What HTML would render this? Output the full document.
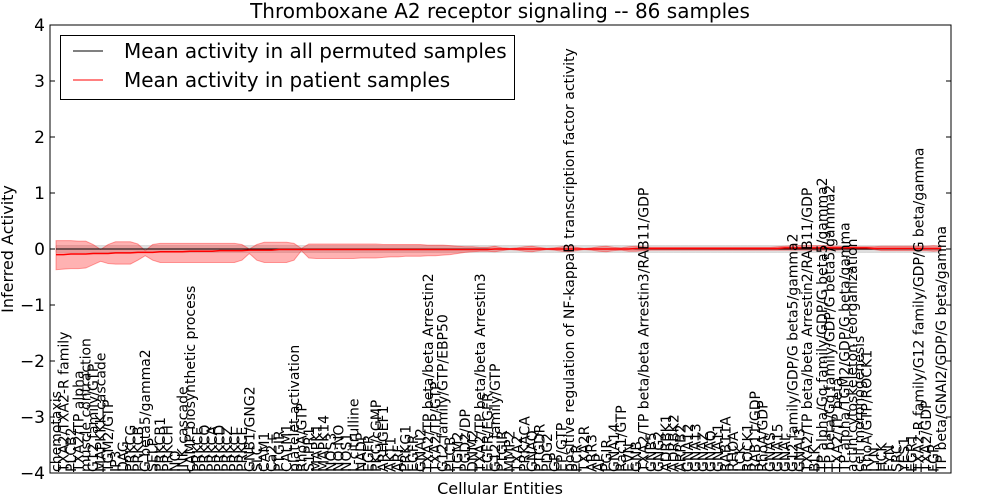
<!DOCTYPE html>
<html><head><meta charset="utf-8"><style>
body{margin:0;background:#fff;}
svg{display:block;font-family:"DejaVu Sans","Liberation Sans",sans-serif;}
</style></head><body>
<svg id="chart" width="1000" height="500" viewBox="0 0 1000 500">
<rect x="0" y="0" width="1000" height="500" fill="#fff"/>
<text x="500" y="18" text-anchor="middle" font-size="20">Thromboxane A2 receptor signaling -- 86 samples</text>
<text transform="translate(13,249) rotate(-90)" text-anchor="middle" font-size="16">Inferred Activity</text>
<text x="500" y="494" text-anchor="middle" font-size="16">Cellular Entities</text>
<g id="plot"></g>
<g id="xlabels"></g>
<rect x="50" y="25" width="901" height="448" fill="none" stroke="#000" stroke-width="1"/>
<g id="yaxis"></g>
<g>
<rect x="60.5" y="35.5" width="454" height="64" fill="#fff" stroke="#000"/>
<line x1="73" y1="51" x2="103" y2="51" stroke="#000" stroke-width="1"/>
<text x="124" y="58" font-size="20">Mean activity in all permuted samples</text>
<line x1="73" y1="80" x2="103" y2="80" stroke="#f00" stroke-width="1"/>
<text x="124" y="87" font-size="20">Mean activity in patient samples</text>
</g>
</svg>
<script>
const categories = ["chemotaxis","TXA2/TXA2-R family","PLCB2","TXA2/TP alpha","muscle contraction","G12 family/GTP","MAPKKK cascade","TGM2/GTP","IP3","DAG",
"PRKCG","PRKCB","G beta5/gamma2","SELP","PRKCB1","PRKCH","NO","JNK cascade","cAMP biosynthetic process","PRKCE",
"PRKCQ","PRKCA","PRKCD","PRKCZ","PRKCI","PRKCE","GNB1/GNG2","SLC","CAM1","Ca2+",
"PTGIR","CALM1","platelet activation","RhoA/GTP","S1PR1","MAPK1","MAPK14","NOS3","NO:NO","NOS1",
"L-citrulline","NADP","EGFR","PKG/cGMP","ARHGEF1","AKT1","ARF","PRKG1","EGFR","GNAI2",
"TXA2/TP beta/beta Arrestin2","TXA2/TP/GTP","G12 family/GTP/EBP50","PLCB","TGM2","PGD2/DP","DNM2","TXA2/TP beta/beta Arrestin3","EGFR/EGFR","G12 family/GTP",
"PTGIR","MMP2","TXA2","PRKACA","GNAQ","PTGDR","PDG2","GP","EP/GTP","positive regulation of NF-kappaB transcription factor activity",
"PCR","TXA2R","ARR3","AP","PGIR","GNA14","Rac1/GTP","EVN","GNB","TXA2/TP beta/beta Arrestin3/RAB11/GDP",
"GNB5","GNG2","ADRBK1","ADRBK2","ARRB2","GNA12","GNA13","GNAZ","GNAQ","GNA11",
"RAB11A","RHOA","LCK","ROCK1","RAB11/GDP","RhoA/GDP","GNAS","GNA15","GNAI","G12 family/GDP/G beta5/gamma2",
"GNAI3","TXA2/TP beta/beta Arrestin2/RAB11/GDP","BLK","TP alpha/Gq family/GDP/G beta5/gamma2","TP beta/Gq family/GDP/G beta5/gamma2","TXA2/TP beta","TP alpha/TGM2/GDP/G beta/gamma","actin cytoskeleton reorganization","cell morphogenesis","RhoA/GTP/ROCK1",
"LYN","HCK","FYN","SRC","YES1","EGR1","TXA2-R family/G12 family/GDP/G beta/gamma","TXA2/GDP","FGR","TP beta/GNAI2/GDP/G beta/gamma"];
const patientMean = [-0.10,-0.10,-0.09,-0.09,-0.09,-0.08,-0.08,-0.08,-0.07,-0.07,
-0.07,-0.06,-0.06,-0.06,-0.05,-0.05,-0.05,-0.05,-0.04,-0.04,
-0.04,-0.04,-0.03,-0.03,-0.03,-0.03,-0.02,-0.02,-0.02,-0.02,
-0.01,-0.01,-0.01,-0.01,-0.01,-0.01,-0.01,-0.01,-0.01,-0.01,
-0.01,-0.01,-0.01,-0.01,-0.01,-0.01,-0.01,-0.01,-0.01,-0.01,
-0.01,-0.01,-0.01,-0.01,-0.01,-0.01,-0.01,-0.01,-0.01,0.00,
0.00,0.00,0.00,0.00,0.00,0.00,0.00,0.00,0.00,0.00,
0.00,0.00,0.00,0.00,0.00,0.00,0.00,0.00,0.01,0.01,
0.01,0.01,0.01,0.01,0.01,0.01,0.01,0.01,0.01,0.01,
0.01,0.01,0.01,0.01,0.01,0.01,0.01,0.01,0.02,0.02,
0.02,0.02,0.02,0.02,0.02,0.02,0.02,0.02,0.02,0.02,
0.01,0.01,0.01,0.01,0.01,0.01,0.01,0.01,0.01,0.01];
const patientUpper = [0.15,0.15,0.15,0.14,0.14,0.08,-0.01,0.08,0.13,0.13,
0.13,0.09,-0.03,0.08,0.10,0.10,0.10,0.10,0.10,0.10,
0.10,0.10,0.10,0.10,0.10,0.08,0.00,0.08,0.12,0.12,
0.12,0.12,0.10,0.01,0.09,0.09,0.09,0.09,0.09,0.09,
0.09,0.09,0.09,0.09,0.08,0.08,0.08,0.08,0.08,0.08,
0.07,0.07,0.07,0.06,0.05,0.04,0.04,0.03,0.03,0.05,
0.02,0.01,0.02,0.04,0.05,0.03,0.01,0.02,0.04,0.05,
0.03,0.01,0.02,0.04,0.05,0.03,0.02,0.04,0.05,0.04,
0.03,0.03,0.03,0.03,0.03,0.03,0.03,0.03,0.03,0.03,
0.03,0.03,0.03,0.03,0.03,0.03,0.03,0.04,0.05,0.06,
0.06,0.06,0.06,0.06,0.06,0.05,0.04,0.04,0.04,0.04,
0.04,0.05,0.05,0.05,0.05,0.05,0.05,0.05,0.06,0.05];
const patientLower = [-0.37,-0.36,-0.35,-0.35,-0.34,-0.28,-0.22,-0.26,-0.27,-0.27,
-0.27,-0.20,-0.12,-0.20,-0.24,-0.24,-0.24,-0.24,-0.24,-0.24,
-0.24,-0.24,-0.24,-0.24,-0.24,-0.20,-0.08,-0.20,-0.24,-0.24,
-0.24,-0.24,-0.20,-0.03,-0.16,-0.17,-0.17,-0.17,-0.17,-0.17,
-0.17,-0.16,-0.16,-0.16,-0.15,-0.14,-0.14,-0.13,-0.13,-0.13,
-0.12,-0.12,-0.11,-0.10,-0.08,-0.06,-0.05,-0.04,-0.04,-0.05,
-0.03,-0.01,-0.02,-0.04,-0.05,-0.03,-0.01,-0.02,-0.04,-0.05,
-0.03,-0.01,-0.02,-0.04,-0.05,-0.03,-0.02,-0.04,-0.04,-0.03,
-0.02,-0.02,-0.02,-0.02,-0.02,-0.02,-0.02,-0.02,-0.02,-0.02,
-0.02,-0.02,-0.02,-0.02,-0.02,-0.02,-0.02,-0.02,-0.02,-0.02,
-0.02,-0.02,-0.02,-0.02,-0.02,-0.02,-0.01,-0.01,-0.01,-0.01,
-0.01,-0.03,-0.03,-0.03,-0.03,-0.03,-0.03,-0.03,-0.04,-0.03];
const permMean = [0,0,0,0,0,0,0,0,0,0,0,0,0,0,0,0,0,0,0,0,0,0,0,0,0,0,0,0,0,0,
0,0,0,0,0,0,0,0,0,0,0,0,0,0,0,0,0,0,0,0,0,0,0,0,0,0,0,0,0,0,
0,0,0,0,0,0,0,0,0,0,0,0,0,0,0,0,0,0,0,0,0,0,0,0,0,0,0,0,0,0,
0,0,0,0,0,0,0,0,0,0,0,0,0,0,0,0,0,0,0,0,0,0,0,0,0,0,0,0,0,0];
const permSpread = [0.06,0.06,0.06,0.06,0.06,0.06,0.06,0.06,0.06,0.06,0.06,0.06,0.06,0.06,0.06,0.06,0.06,0.06,0.06,0.06,
0.06,0.06,0.06,0.06,0.06,0.06,0.06,0.06,0.06,0.06,0.06,0.06,0.06,0.06,0.06,0.06,0.06,0.06,0.06,0.06,
0.06,0.06,0.06,0.06,0.06,0.06,0.06,0.06,0.06,0.06,0.06,0.06,0.06,0.06,0.06,0.06,0.06,0.06,0.06,0.06,
0.06,0.06,0.06,0.06,0.06,0.06,0.06,0.06,0.06,0.06,0.06,0.06,0.06,0.06,0.06,0.06,0.06,0.06,0.06,0.06,
0.06,0.06,0.06,0.06,0.06,0.06,0.06,0.06,0.06,0.06,0.06,0.06,0.06,0.06,0.06,0.06,0.06,0.06,0.06,0.06,
0.06,0.06,0.06,0.06,0.06,0.06,0.06,0.06,0.06,0.06,0.06,0.06,0.06,0.06,0.06,0.06,0.06,0.06,0.06,0.06];
const yTicks = [-4,-3,-2,-1,0,1,2,3,4];

const NS = "http://www.w3.org/2000/svg";
const X0 = 56, X1 = 941, YTOP = 25, YBOT = 473;
function xScale(i){ return X0 + i*(X1-X0)/(categories.length-1); }
function yScale(v){ return YBOT - (v+4)*(YBOT-YTOP)/8; }
function mk(tag, attrs){ const e=document.createElementNS(NS,tag); for(const k in attrs) e.setAttribute(k,attrs[k]); return e; }
function bandPath(up, lo, off){
  let d="";
  for(let i=0;i<categories.length;i++) d+=(i?"L":"M")+xScale(i).toFixed(2)+","+yScale(off[i]+up[i]).toFixed(2);
  for(let i=categories.length-1;i>=0;i--) d+="L"+xScale(i).toFixed(2)+","+yScale(off[i]+lo[i]).toFixed(2);
  return d+"Z";
}
function linePath(vals){
  let d=""; for(let i=0;i<vals.length;i++) d+=(i?"L":"M")+xScale(i).toFixed(2)+","+yScale(vals[i]).toFixed(2); return d;
}
const plot=document.getElementById("plot");
const permLo = permSpread.map(v=>-v);
const gband = mk("path",{d:bandPath(permSpread,permLo,permMean),fill:"#c8c8c8","fill-opacity":"0.6",stroke:"#bbb","stroke-width":"0.5"});


plot.appendChild(gband);
const zeros = patientMean.map(()=>0);
const rband = mk("path",{d:bandPath(patientUpper,patientLower,zeros),fill:"#ff0000","fill-opacity":"0.3",stroke:"#ff0000","stroke-opacity":"0.35","stroke-width":"1"});


plot.appendChild(rband);
const bline = mk("path",{d:linePath(permMean),fill:"none",stroke:"#000","stroke-width":"1"});


plot.appendChild(bline);
const rline = mk("path",{d:linePath(patientMean),fill:"none",stroke:"#f00","stroke-width":"1.5"});


plot.appendChild(rline);

const ya=document.getElementById("yaxis");
yTicks.forEach(t=>{
  const y=yScale(t);
  const l=mk("line",{x1:50,y1:y,x2:55,y2:y,stroke:"#000"});
  
  
  ya.appendChild(l);
  const r=mk("line",{x1:946,y1:y,x2:951,y2:y,stroke:"#000"});
  
  
  ya.appendChild(r);
  const tx=mk("text",{x:45,y:y+6,"text-anchor":"end","font-size":"17"});
  tx.textContent=(t<0?"\u2212"+(-t):String(t));
  
  
  ya.appendChild(tx);
});
const xl=document.getElementById("xlabels");
categories.forEach((c,i)=>{
  const x=xScale(i)+5;
  const t=mk("text",{x:x,y:472,"font-size":"14",transform:"rotate(-90 "+x+" 472)"});
  t.textContent=c;
  
  
  xl.appendChild(t);
});
</script>
</body></html>
